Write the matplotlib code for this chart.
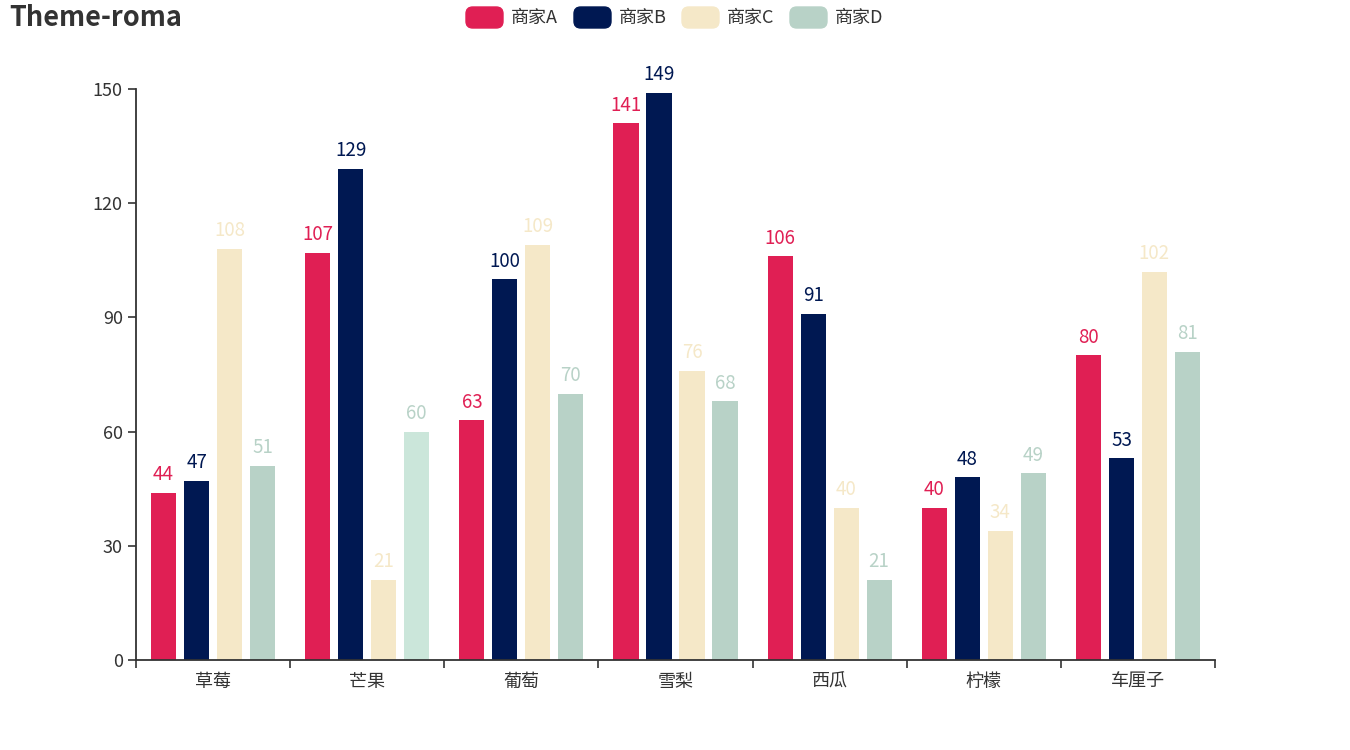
import matplotlib
matplotlib.use('Agg')
import matplotlib.pyplot as plt
import numpy as np
from matplotlib.patches import FancyBboxPatch

plt.rcParams['font.family'] = ['Noto Sans CJK SC', 'DejaVu Sans']

categories = ['草莓', '芒果', '葡萄', '雪梨', '西瓜', '柠檬', '车厘子']
series_names = ['商家A', '商家B', '商家C', '商家D']
vals_a = [44, 107, 63, 141, 106, 40, 80]
vals_b = [47, 129, 100, 149, 91, 48, 53]
vals_c = [108, 21, 109, 76, 40, 34, 102]
vals_d = [51, 60, 70, 68, 21, 49, 81]
colors = ['#e01f54', '#001852', '#f5e8c8', '#b8d2c7']
highlight = (1, 3, '#cbe6da')  # hovered bar: category 芒果, series D
y_ticks = [0, 30, 60, 90, 120, 150]

fig = plt.figure(figsize=(13.5, 7.5), dpi=100)
ax = fig.add_axes([136 / 1350, 90 / 750, (1215 - 136) / 1350, (660 - 89) / 750])

x = np.arange(len(categories))
width = 0.163
offsets = [-0.321, -0.107, 0.107, 0.321]
for i, vals in enumerate([vals_a, vals_b, vals_c, vals_d]):
    cols = [colors[i]] * len(vals)
    if i == highlight[1]:
        cols[highlight[0]] = highlight[2]
    ax.bar(x + offsets[i], vals, width, color=cols, zorder=2)
    for xi, v in zip(x, vals):
        ax.annotate(str(v), (xi + offsets[i], v), xytext=(0, 5.5), textcoords='offset points',
                    ha='center', va='bottom', fontsize=13.5, color=colors[i])

ax.set_xlim(-0.5, len(categories) - 0.5)
ax.set_ylim(0, 150)
ax.set_yticks(y_ticks)
ax.set_xticks(np.arange(len(categories) + 1) - 0.5)
ax.set_xticklabels([])
ax.set_xticks(x, minor=True)
ax.set_xticklabels(categories, minor=True)
ax.tick_params(axis='x', which='minor', length=0, pad=9, labelsize=13, labelcolor='#333333')
ax.tick_params(axis='x', which='major', length=5.5, width=1.2, color='#333333')
ax.tick_params(axis='y', length=5.5, width=1.2, color='#333333', labelsize=13,
               labelcolor='#333333', pad=4)
for s in ['top', 'right']:
    ax.spines[s].set_visible(False)
for s in ['left', 'bottom']:
    ax.spines[s].set_color('#333333')
    ax.spines[s].set_linewidth(1.3)

fig.text(9 / 1350, 1 - 18 / 750, 'Theme-roma', fontsize=19.5, fontweight='bold',
         color='#333333', va='center', ha='left')

# legend
lx = 466
for i, name in enumerate(series_names):
    x0 = (lx + i * 108) / 1350
    fig.patches.append(FancyBboxPatch((x0, 1 - 28 / 750), 37 / 1350, 21 / 750,
                                      boxstyle='round,pad=0,rounding_size=0.005',
                                      transform=fig.transFigure, color=colors[i],
                                      mutation_aspect=1350 / 750))
    fig.text(x0 + 45 / 1350, 1 - 17.5 / 750, name, fontsize=13, color='#333333',
             va='center', ha='left')

fig.savefig('out.png', dpi=100)
